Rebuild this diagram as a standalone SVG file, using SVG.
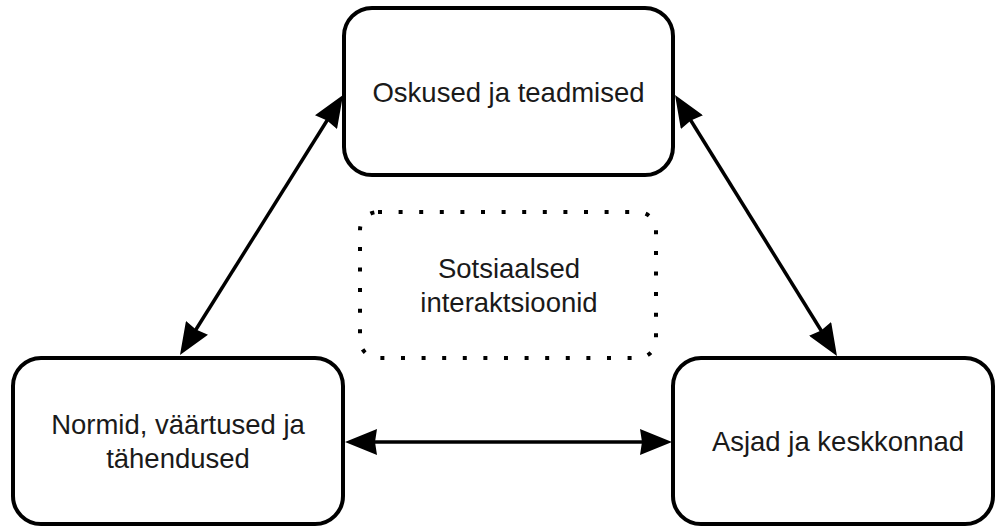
<svg xmlns="http://www.w3.org/2000/svg" width="995" height="527" viewBox="0 0 995 527">
  <defs>
    <style>
      .box { fill: #ffffff; stroke: #000000; stroke-width: 4; }
      .dotted { fill: none; stroke: #000000; stroke-width: 4; stroke-dasharray: 4 16.6; }
      .lbl { font-family: "Liberation Sans", Arial, sans-serif; font-size: 27.5px; fill: #1a1a1a; text-anchor: middle; }
      .conn { stroke: #000000; stroke-width: 3.5; fill: none; marker-start: url(#arrow); marker-end: url(#arrow); }
    </style>
    <marker id="arrow" viewBox="0 0 32 26" refX="22" refY="13" markerWidth="32" markerHeight="26" markerUnits="userSpaceOnUse" orient="auto-start-reverse">
      <path d="M0,0 L32,13 L0,26 L2,13 Z" fill="#000000"/>
    </marker>
  </defs>
  <rect width="995" height="527" fill="#ffffff"/>

  <g id="connectors">
    <line class="conn" x1="337.7" y1="103.5" x2="185.3" y2="346.5"/>
    <line class="conn" x1="680.3" y1="103.5" x2="831.7" y2="347.5"/>
    <line class="conn" x1="355" y1="442" x2="662" y2="442"/>
  </g>

  <g id="node-oskused">
    <rect class="box" x="344" y="8" width="329" height="167" rx="28" ry="28"/>
    <text class="lbl" x="508.5" y="102">Oskused ja teadmised</text>
  </g>

  <g id="node-normid">
    <rect class="box" x="13" y="358" width="330" height="166" rx="28" ry="28"/>
    <text class="lbl" x="178" y="434">Normid, väärtused ja</text>
    <text class="lbl" x="178" y="468">tähendused</text>
  </g>

  <g id="node-asjad">
    <rect class="box" x="673" y="358" width="320" height="166" rx="28" ry="28"/>
    <text class="lbl" x="838" y="451">Asjad ja keskkonnad</text>
  </g>

  <g id="node-sotsiaalsed">
    <rect class="dotted" x="360" y="212" width="296" height="146" rx="18" ry="18"/>
    <text class="lbl" x="509" y="278">Sotsiaalsed</text>
    <text class="lbl" x="509" y="312">interaktsioonid</text>
  </g>
</svg>
